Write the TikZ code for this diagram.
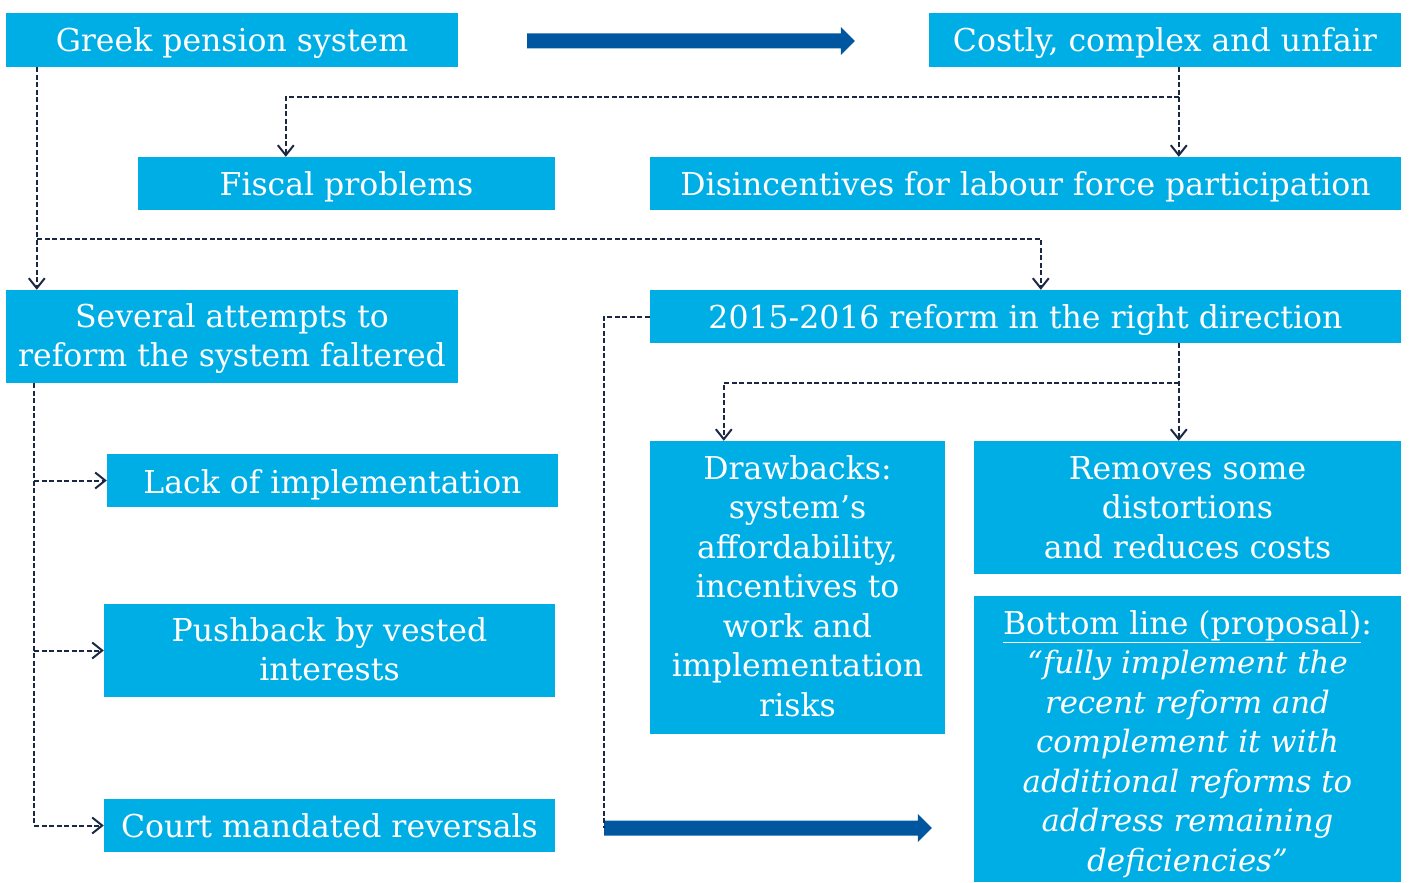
\documentclass[tikz,border=0pt]{standalone}
\usepackage{fontspec}
\setmainfont{DejaVu Serif}
\usetikzlibrary{arrows.meta,calc}
\definecolor{boxcyan}{HTML}{00AEE6}
\definecolor{arrowblue}{HTML}{0057A0}
\definecolor{navy}{HTML}{1A2745}
\tikzset{
  box/.style={fill=boxcyan, text=white, inner sep=0pt, align=center,
    font=\fontsize{31.5}{39.5}\selectfont},
  tb/.style 2 args={text height=#1pt, text depth=#2pt},
  dline/.style={draw=navy, line width=2pt, dash pattern=on 5pt off 2.5pt},
  conn/.style={dline, -{Straight Barb[length=10pt,width=16pt,line width=2pt]}},
  bigarrow/.style={fill=arrowblue}
}
\newcommand{\bigarr}[2]{%
  \fill[bigarrow] ($(#1)+(0,-7.5)$) -- ($(#2)+(-14,-7.5)$) -- ($(#2)+(-14,-14)$) -- (#2)
   -- ($(#2)+(-14,14)$) -- ($(#2)+(-14,7.5)$) -- ($(#1)+(0,7.5)$) -- cycle;}
\newcommand{\itl}{\fontsize{30.8}{39.5}\selectfont\itshape}
\begin{document}
\begin{tikzpicture}[x=1pt,y=-1pt]
\useasboundingbox (0,0) rectangle (1409,883);
% boxes
\node[box, tb={24}{0}, minimum width=452pt, minimum height=54pt] (g) at (232,40) {Greek pension system};
\node[box, tb={24}{0}, minimum width=472pt, minimum height=54pt] (c) at (1165,40) {Costly, complex and unfair};
\node[box, tb={24}{0}, minimum width=417pt, minimum height=53pt] (f) at (346.5,183.5) {Fiscal problems};
\node[box, tb={24}{0}, minimum width=751pt, minimum height=53pt] (d) at (1025.5,183.5) {Disincentives for labour force participation};
\node[box, tb={60}{0}, minimum width=452pt, minimum height=93pt] (s) at (232,336.5) {Several attempts to\\reform the system faltered};
\node[box, tb={24}{0}, minimum width=751pt, minimum height=53pt] (r) at (1025.5,316.5) {2015-2016 reform in the right direction};
\node[box, tb={26}{0}, minimum width=451pt, minimum height=53pt] (l) at (332.5,480.5) {Lack of implementation};
\node[box, tb={60}{0}, minimum width=451pt, minimum height=93pt] (p) at (329.5,650.5) {Pushback by vested\\interests};
\node[box, tb={24}{0}, minimum width=451pt, minimum height=53pt] (ct) at (329.5,825.5) {Court mandated reversals};
\node[box, tb={257}{0}, minimum width=295pt, minimum height=293pt] (db) at (797.5,587.5) {Drawbacks:\\system’s\\affordability,\\incentives to\\work and\\implementation\\risks};
\node[box, tb={101}{0}, minimum width=427pt, minimum height=133pt] (rm) at (1187.5,507.5) {Removes some\\distortions\\and reduces costs};
\node[box, tb={264}{0}, minimum width=427pt, minimum height=286pt] (bl) at (1187.5,739) {\underline{Bottom line (proposal)}:\\\itl “fully implement the\\\itl recent reform and\\\itl complement it with\\\itl additional reforms to\\\itl address remaining\\\itl deficiencies”};
% junction coordinates
\coordinate (j1) at (37,239);
\coordinate (j2) at (1179,97);
\coordinate (j3) at (1179,383);
\coordinate (t) at (34,0);
\coordinate (b0) at (604,828);
% thick arrows
\coordinate (a1) at ($(g.east)+(69,1)$);
\coordinate (a2) at ($(c.west)+(-74,1)$);
\bigarr{a1}{a2}
\coordinate (a3) at ($(bl.west |- b0)+(-42,0)$);
\bigarr{b0}{a3}
% dashed connectors
\draw[conn] ([xshift=31pt]g.south west) -- ([xshift=31pt]s.north west);
\draw[conn] (j1) -| ([xshift=391pt]r.north west);
\draw[conn] ([xshift=250pt]c.south west) -- ([xshift=529pt]d.north west);
\draw[conn] (j2) -| ([xshift=148pt]f.north west);
\draw[conn] ([xshift=28pt]s.south west) |- (ct.west);
\draw[conn] (l.west -| t) -- (l.west);
\draw[conn] (p.west -| t) -- (p.west);
\draw[conn] ([xshift=529pt]r.south west) -- ([xshift=205pt]rm.north west);
\draw[conn] (j3) -| ([xshift=74pt]db.north west);
\draw[dline] (r.west) -| (b0);
\end{tikzpicture}
\end{document}
